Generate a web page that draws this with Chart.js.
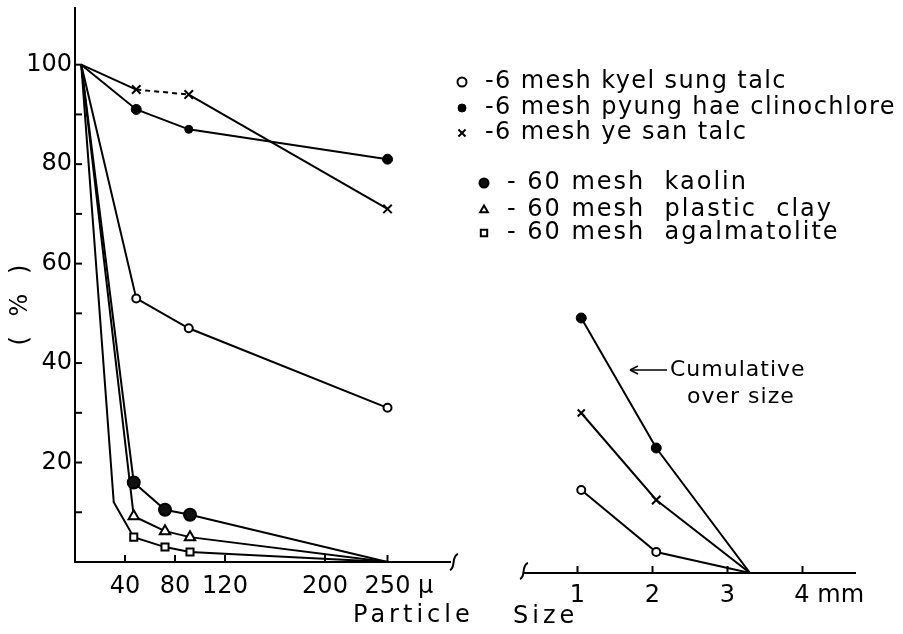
<!DOCTYPE html>
<html>
<head>
<meta charset="utf-8">
<title>Particle size distribution</title>
<script src="https://cdn.jsdelivr.net/npm/chart.js@4.4.1/dist/chart.umd.min.js"></script>
<style>
  html, body { margin: 0; padding: 0; background: #fff; }
  #wrap { position: relative; width: 903px; height: 634px; }
  #fineChart { position: absolute; left: 0; top: 0; }
  #coarseChart { position: absolute; left: 480px; top: 0; }
</style>
</head>
<body>
<div id="wrap">
  <canvas id="fineChart" width="903" height="634"></canvas>
  <canvas id="coarseChart" width="423" height="634"></canvas>
</div>
<script>
// Particle size in micron (left panel) and mm (right panel)
const sixMeshMicron = [5, 49, 91, 250];
const sixtyMeshMicron = [5, 47, 72, 92, 250];
const agalMicron = [5, 31, 47, 72, 92, 250]; // second value is the bend of the curve
const coarseMm = [1.05, 2.05, 3.3];

// Passing percentage, fine fraction
const kyelSungFine = [100, 53, 47, 31];
const pyungHaeFine = [100, 91, 87, 81];
const yeSanFine = [100, 95, 94, 71];
const kaolinFine = [100, 16, 10.5, 9.5, 0];
const plasticClayFine = [100, 9.2, 6.2, 5, 0];
const agalmatoliteFine = [100, 12, 5, 3, 2, 0];

// Cumulative over size, coarse fraction
const kyelSungCoarse = [16.6, 4.2, 0];
const pyungHaeCoarse = [51, 25, 0];
const yeSanCoarse = [32, 14.6, 0];

const legendLabels = [
  '-6 mesh kyel sung talc',
  '-6 mesh pyung hae clinochlore',
  '-6 mesh ye san talc',
  '- 60 mesh  kaolin',
  '- 60 mesh  plastic  clay',
  '- 60 mesh  agalmatolite'
];

const micronTicks = [40, 80, 120, 200, 250];
const mmTicks = [1, 2, 3, 4];
const percentLabels = [20, 40, 60, 80, 100];
const percentMarks = [10, 20, 30, 40, 50, 60, 70, 80, 90, 100];

const FONT = "'DejaVu Sans', sans-serif";
Chart.defaults.font.family = FONT;
Chart.defaults.font.size = 24;
Chart.defaults.color = '#000';

const toPoints = (xs, ys) => xs.map((x, i) => ({ x: x, y: ys[i] }));

// marker styles for each material
const markers = {
  kyel:    { pointStyle: 'circle',   fill: '#fff', width: 2 },
  pyung:   { pointStyle: 'circle',   fill: '#000', width: 1 },
  yesan:   { pointStyle: 'crossRot', fill: '#000', width: 2 },
  kaolin:  { pointStyle: 'circle',   fill: '#111', width: 2 },
  plastic: { pointStyle: 'triangle', fill: '#fff', width: 2 },
  agal:    { pointStyle: 'rect',     fill: '#fff', width: 2 }
};

function makeSet(label, xs, ys, m, radii, extra) {
  return Object.assign({
    label: label,
    data: toPoints(xs, ys),
    borderColor: '#000',
    borderWidth: 2,
    pointStyle: m.pointStyle,
    pointRadius: radii,
    pointBackgroundColor: m.fill,
    pointBorderColor: '#000',
    pointBorderWidth: m.width,
    fill: false,
    tension: 0
  }, extra || {});
}

function line(ctx, x1, y1, x2, y2) {
  ctx.beginPath();
  ctx.moveTo(x1, y1);
  ctx.lineTo(x2, y2);
  ctx.stroke();
}

// little squiggle where an axis is cut
function axisBreak(ctx, x, y) {
  ctx.beginPath();
  ctx.moveTo(x - 4, y + 8);
  ctx.bezierCurveTo(x + 2, y + 6, x - 3, y - 6, x + 4, y - 8);
  ctx.stroke();
}

function drawMarker(ctx, ds, x, y, r) {
  ctx.fillStyle = ds.pointBackgroundColor;
  ctx.strokeStyle = '#000';
  ctx.lineWidth = ds.pointBorderWidth;
  Chart.helpers.drawPoint(ctx, { pointStyle: ds.pointStyle, radius: r, rotation: 0, borderWidth: ds.pointBorderWidth }, x, y);
}

const fineDecor = {
  id: 'fineDecor',
  afterDraw(chart) {
    const { ctx } = chart;
    const xs = chart.scales.x, ys = chart.scales.y;
    ctx.save();
    ctx.strokeStyle = '#000';
    ctx.lineWidth = 2;
    percentMarks.forEach(v => {
      const py = ys.getPixelForValue(v);
      line(ctx, xs.left, py, xs.left + 7, py);
    });
    micronTicks.forEach(v => {
      const px = xs.getPixelForValue(v);
      line(ctx, px, ys.bottom, px, ys.bottom - 7);
    });
    axisBreak(ctx, xs.right + 4, ys.bottom);

    // shared axis title
    ctx.fillStyle = '#000';
    ctx.font = '24px ' + FONT;
    ctx.textBaseline = 'middle';
    ctx.textAlign = 'left';
    ctx.letterSpacing = '4px';
    ctx.fillText('Particle', 353, 616);
    ctx.fillText('Size', 513, 617);

    // y title, rotated
    ctx.save();
    ctx.translate(21, 302);
    ctx.rotate(-Math.PI / 2);
    ctx.textAlign = 'center';
    ctx.letterSpacing = '6px';
    ctx.fillText('( % )', 0, 0);
    ctx.restore();

    // legend: two groups, the -60 mesh group indented
    ctx.font = '24px ' + FONT;
    const rows = [82, 108, 133, 183, 210, 233];
    chart.data.datasets.forEach((ds, i) => {
      const indent = i < 3 ? 0 : 22;
      const r = ds.pointStyle === 'crossRot' ? 5 : i === 1 ? 4 : 4.5;
      drawMarker(ctx, ds, 462 + indent, rows[i], r);
      ctx.fillStyle = '#000';
      ctx.letterSpacing = i < 3 ? '1.4px' : '2px';
      ctx.fillText(legendLabels[i], 485 + indent, rows[i]);
    });
    ctx.restore();
  }
};

const coarseDecor = {
  id: 'coarseDecor',
  afterDraw(chart) {
    const { ctx } = chart;
    const xs = chart.scales.x, ys = chart.scales.y;
    ctx.save();
    ctx.strokeStyle = '#000';
    ctx.fillStyle = '#000';
    ctx.lineWidth = 2;
    mmTicks.forEach(v => {
      const px = xs.getPixelForValue(v);
      line(ctx, px, ys.bottom, px, ys.bottom - 7);
    });
    axisBreak(ctx, xs.left - 1, ys.bottom - 2);

    // note with arrow
    ctx.lineWidth = 1.5;
    line(ctx, 150, 370, 187, 370);
    line(ctx, 150, 370, 158, 366);
    line(ctx, 150, 370, 158, 374);
    ctx.font = '22px ' + FONT;
    ctx.textBaseline = 'middle';
    ctx.letterSpacing = '1px';
    ctx.fillText('Cumulative', 190, 370);
    ctx.fillText('over size', 207, 397);
    ctx.restore();
  }
};

new Chart(document.getElementById('fineChart'), {
  type: 'line',
  data: {
    datasets: [
      makeSet(legendLabels[0], sixMeshMicron, kyelSungFine, markers.kyel, [0, 4, 4, 4]),
      makeSet(legendLabels[1], sixMeshMicron, pyungHaeFine, markers.pyung, [0, 5, 4, 5]),
      makeSet(legendLabels[2], sixMeshMicron, yeSanFine, markers.yesan, [0, 6, 6, 6], {
        segment: { borderDash: c => c.p0DataIndex === 1 ? [5, 4] : undefined }
      }),
      makeSet(legendLabels[3], sixtyMeshMicron, kaolinFine, markers.kaolin, [0, 6, 6, 6, 0]),
      makeSet(legendLabels[4], sixtyMeshMicron, plasticClayFine, markers.plastic, [0, 6, 6, 6, 0]),
      makeSet(legendLabels[5], agalMicron, agalmatoliteFine, markers.agal, [0, 0, 5, 5, 5, 0])
    ]
  },
  options: {
    responsive: false,
    animation: false,
    events: [],
    layout: { padding: { top: 5, right: 453, left: 0, bottom: 0 } },
    plugins: { legend: { display: false }, tooltip: { enabled: false } },
    scales: {
      x: {
        type: 'linear',
        min: 0,
        max: 300,
        grid: { display: false, drawTicks: false },
        border: { color: '#000', width: 2 },
        afterBuildTicks: s => { s.ticks = micronTicks.map(v => ({ value: v })); },
        afterFit: s => { s.height = 72; s.paddingLeft = 0; s.paddingRight = 0; },
        ticks: {
          autoSkip: false,
          maxRotation: 0,
          padding: 10,
          callback: v => v === 250 ? '   250 \u03bc' : String(v)
        }
      },
      y: {
        min: 0,
        max: 111.4,
        grid: { display: false, drawTicks: false },
        border: { color: '#000', width: 2 },
        afterBuildTicks: s => { s.ticks = percentLabels.map(v => ({ value: v })); },
        afterFit: s => { s.width = 75; s.paddingTop = 0; s.paddingBottom = 0; },
        ticks: { padding: 3 }
      }
    }
  },
  plugins: [fineDecor]
});

new Chart(document.getElementById('coarseChart'), {
  type: 'line',
  data: {
    datasets: [
      makeSet(legendLabels[0], coarseMm, kyelSungCoarse, markers.kyel, [4, 4, 0]),
      makeSet(legendLabels[1], coarseMm, pyungHaeCoarse, markers.pyung, [5, 5, 0]),
      makeSet(legendLabels[2], coarseMm, yeSanCoarse, markers.yesan, [5, 6, 0])
    ]
  },
  options: {
    responsive: false,
    animation: false,
    events: [],
    layout: { padding: { top: 18, right: 48, left: 45, bottom: 0 } },
    plugins: { legend: { display: false }, tooltip: { enabled: false } },
    scales: {
      x: {
        type: 'linear',
        min: 0.3,
        max: 4.7,
        grid: { display: false, drawTicks: false },
        border: { color: '#000', width: 2 },
        afterBuildTicks: s => { s.ticks = mmTicks.map(v => ({ value: v })); },
        afterFit: s => { s.height = 61; s.paddingLeft = 0; s.paddingRight = 0; },
        ticks: {
          autoSkip: false,
          maxRotation: 0,
          padding: 8,
          callback: v => v === 4 ? '       4 mm' : String(v)
        }
      },
      y: { display: false, min: 0, max: 111 }
    }
  },
  plugins: [coarseDecor]
});
</script>
</body>
</html>
